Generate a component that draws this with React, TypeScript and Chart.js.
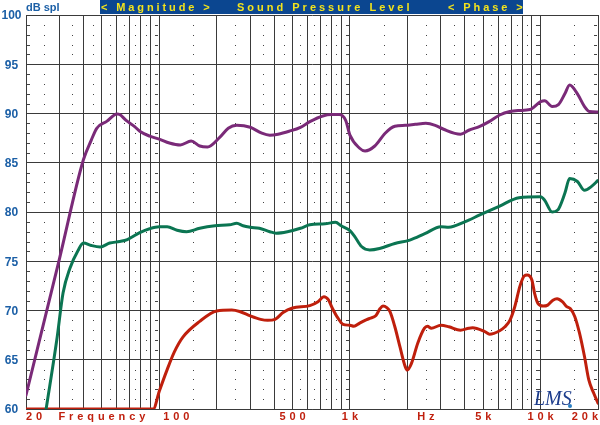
import React, { useEffect, useRef } from 'react';
import { Chart, registerables } from 'chart.js';

Chart.register(...registerables);

// ---- data (Hz / dB SPL) ----
const purpleFreq = [20, 30, 40, 44, 47, 53, 60, 62, 67, 74, 79, 89, 100, 113, 129, 147, 163, 179, 208, 230, 255, 300, 345, 380, 420, 480, 550, 620, 720, 800, 880, 950, 1000, 1120, 1200, 1350, 1530, 1720, 1950, 2200, 2500, 2800, 3100, 3800, 4200, 4800, 5400, 6100, 6900, 7700, 8800, 10000, 10500, 11500, 12400, 13400, 14200, 15600, 17000, 18000, 20000];
const purpleDb = [61.4, 75.3, 85.3, 87.3, 88.5, 89.2, 89.95, 89.9, 89.3, 88.7, 88.2, 87.7, 87.4, 87.0, 86.8, 87.2, 86.7, 86.6, 87.6, 88.5, 88.8, 88.6, 88.0, 87.8, 87.9, 88.2, 88.6, 89.2, 89.75, 89.9, 89.9, 89.3, 87.8, 86.5, 86.2, 86.7, 88.0, 88.7, 88.8, 88.9, 89.0, 88.8, 88.4, 87.9, 88.3, 88.7, 89.2, 89.85, 90.2, 90.3, 90.4, 91.2, 91.3, 90.7, 90.9, 92.0, 92.9, 92.0, 90.7, 90.2, 90.15];

const greenFreq = [25.5, 29, 31.3, 34, 37.5, 40, 44, 49, 55, 62, 68, 79, 89, 100, 110, 124, 139, 163, 196, 234, 255, 275, 300, 335, 380, 410, 470, 550, 616, 740, 840, 900, 1000, 1060, 1150, 1270, 1430, 1720, 2060, 2470, 3000, 3300, 4000, 4800, 6100, 7700, 10000, 10500, 11500, 12300, 13400, 14200, 15600, 17000, 18500, 20000];
const greenDb = [60, 67, 71.8, 74.3, 76.1, 76.85, 76.6, 76.45, 76.85, 77.0, 77.2, 77.9, 78.3, 78.5, 78.5, 78.15, 78.0, 78.35, 78.6, 78.7, 78.85, 78.6, 78.45, 78.35, 78.0, 77.85, 78.0, 78.35, 78.7, 78.8, 78.95, 78.6, 78.1, 77.5, 76.5, 76.15, 76.3, 76.8, 77.15, 77.8, 78.5, 78.45, 79.0, 79.7, 80.6, 81.45, 81.55, 81.2, 80.0, 80.2, 81.9, 83.4, 83.1, 82.2, 82.6, 83.2];

const redFreq = [20, 93, 100, 110, 120, 133, 163, 200, 240, 264, 300, 340, 370, 405, 446, 500, 616, 680, 730, 770, 810, 860, 920, 1000, 1050, 1120, 1200, 1270, 1370, 1440, 1490, 1560, 1620, 1720, 1830, 1950, 2000, 2100, 2270, 2460, 2550, 2670, 3000, 3300, 3800, 4200, 4400, 5100, 5400, 6100, 6500, 6900, 7300, 7800, 8200, 8500, 9000, 9300, 9700, 10300, 10900, 11600, 12200, 13000, 13700, 14300, 15100, 16000, 17000, 17900, 19000, 20000];
const redDb = [60, 60, 61.8, 64.0, 65.8, 67.3, 68.9, 69.95, 70.05, 69.9, 69.45, 69.1, 69.0, 69.1, 69.8, 70.25, 70.5, 70.9, 71.4, 71.1, 70.2, 69.3, 68.6, 68.5, 68.4, 68.7, 69.0, 69.2, 69.5, 70.2, 70.45, 70.3, 69.9, 68.35, 66.3, 64.3, 63.95, 64.6, 66.7, 68.2, 68.4, 68.2, 68.5, 68.35, 68.0, 68.2, 68.25, 67.85, 67.6, 67.95, 68.35, 69.0, 70.3, 72.5, 73.5, 73.6, 73.1, 71.75, 70.7, 70.45, 70.55, 71.05, 71.2, 70.9, 70.4, 70.2, 69.4, 67.7, 65.3, 62.95, 61.6, 60.6];

// ---- axes ----
const gridFreqs = [20, 30, 40, 50, 60, 70, 80, 90, 100, 200, 300, 400, 500, 600, 700, 800, 900, 1000, 2000, 3000, 4000, 5000, 6000, 7000, 8000, 9000, 10000, 20000];
const dotFreqs = [25, 35, 45, 55, 65, 75, 85, 95, 150, 250, 350, 450, 550, 650, 750, 850, 950, 1500, 2500, 3500, 4500, 5500, 6500, 7500, 8500, 9500, 15000];
const decadeFreqs = [100, 1000, 10000];
const yTickValues = [60, 65, 70, 75, 80, 85, 90, 95, 100];
const yTickLabels = ['60', '65', '70', '75', '80', '85', '90', '95', '100'];
const xLabelTexts = ['20', 'Frequency', '100', '500', '1k', 'Hz', '5k', '10k', '20k'];
const xLabelFreqs = [20, 50, 100, 500, 1000, 2500, 5000, 10000, 20000];
const xLabelAlign = ['left', 'center', 'left', 'center', 'center', 'center', 'center', 'center', 'right'];
const headerTexts = ['< Magnitude >', 'Sound Pressure Level', '< Phase >'];

const toPoints = (f: number[], v: number[]) => f.map((x, i) => ({ x, y: v[i] }));

function drawSpaced(ctx: CanvasRenderingContext2D, text: string, x: number, y: number, align: string, spacing: number) {
  ctx.save();
  (ctx as any).letterSpacing = '0px';
  const natural = ctx.measureText(text).width;
  const total = natural + spacing * (text.length - 1);
  let left = x;
  if (align === 'center') left = x - total / 2;
  else if (align === 'right') left = x - total;
  ctx.textAlign = 'left';
  (ctx as any).letterSpacing = spacing + 'px';
  ctx.fillText(text, left, y);
  ctx.restore();
}

const bgPlugin = {
  id: 'bgPlugin',
  beforeDraw(chart: any) {
    const ctx = chart.ctx;
    ctx.save();
    ctx.fillStyle = '#ffffff';
    ctx.fillRect(0, 0, chart.width, chart.height);
    ctx.restore();
  },
};

const dotsPlugin = {
  id: 'dotsPlugin',
  beforeDatasetsDraw(chart: any) {
    const ctx = chart.ctx;
    const xs = chart.scales.x;
    const ys = chart.scales.y;
    ctx.save();
    ctx.fillStyle = '#444';
    for (let db = 61; db < 100; db++) {
      if (db % 5 === 0) continue;
      const y = Math.round(ys.getPixelForValue(db));
      for (const f of dotFreqs) {
        const x = Math.round(xs.getPixelForValue(f));
        ctx.fillRect(x, y, 1, 1);
      }
      for (const f of decadeFreqs) {
        const x = Math.round(xs.getPixelForValue(f));
        ctx.fillRect(x - 4, y, 3, 1);
      }
      ctx.fillRect(Math.round(xs.left) + 1, y, 3, 1);
      ctx.fillRect(Math.round(xs.right) - 4, y, 3, 1);
    }
    ctx.restore();
  },
};

const textPlugin = {
  id: 'textPlugin',
  afterDraw(chart: any) {
    const ctx = chart.ctx;
    const xs = chart.scales.x;
    const ys = chart.scales.y;
    ctx.save();
    // header bar
    ctx.fillStyle = '#0b4690';
    ctx.fillRect(100, 0, 423, 14);
    ctx.fillStyle = '#f3e31c';
    ctx.font = 'bold 11px "Liberation Sans", Arial, sans-serif';
    ctx.textBaseline = 'alphabetic';
    drawSpaced(ctx, headerTexts[0], 101, 11, 'left', 2.9);
    drawSpaced(ctx, headerTexts[1], 237, 11, 'left', 3.0);
    drawSpaced(ctx, headerTexts[2], 448, 11, 'left', 2.9);

    // dB spl
    ctx.fillStyle = '#1b5fa6';
    ctx.font = 'bold 11px "Liberation Sans", Arial, sans-serif';
    ctx.textAlign = 'left';
    ctx.fillText('dB spl', 26, 11);

    // y tick labels
    ctx.font = 'bold 12px "Liberation Sans", Arial, sans-serif';
    ctx.textAlign = 'center';
    ctx.textBaseline = 'middle';
    yTickValues.forEach((v, i) => {
      ctx.fillText(yTickLabels[i], 11.5, ys.getPixelForValue(v) + 1);
    });

    // x labels
    ctx.fillStyle = '#c0200e';
    ctx.font = 'bold 11px "Liberation Sans", Arial, sans-serif';
    ctx.textBaseline = 'alphabetic';
    xLabelTexts.forEach((t, i) => {
      let x = xs.getPixelForValue(xLabelFreqs[i]);
      const a = xLabelAlign[i];
      if (a === 'left' && i > 0) x += 4;
      drawSpaced(ctx, t, x, 420, a, 3.9);
    });

    // signature
    ctx.fillStyle = '#1c3c8c';
    ctx.font = 'italic 20px "Liberation Serif", serif';
    ctx.textAlign = 'left';
    ctx.fillText('LMS', 534, 405);
    ctx.fillStyle = '#2a80c4';
    ctx.beginPath();
    ctx.arc(570, 406, 2, 0, Math.PI * 2);
    ctx.fill();
    ctx.restore();
  },
};

export default function App() {
  const ref = useRef<HTMLCanvasElement>(null);
  useEffect(() => {
    document.body.style.margin = '0';
    const canvas = ref.current!;
    const lineDs = (label: string, f: number[], v: number[], color: string) => ({
      label,
      data: toPoints(f, v),
      borderColor: color,
      backgroundColor: color,
      borderWidth: 3,
      pointRadius: 0,
      fill: false,
      cubicInterpolationMode: 'monotone' as const,
      borderCapStyle: 'round' as const,
      borderJoinStyle: 'round' as const,
    });
    const chart = new Chart(canvas, {
      type: 'line',
      data: {
        datasets: [
          lineDs('Purple', purpleFreq, purpleDb, '#7a2a78'),
          lineDs('Green', greenFreq, greenDb, '#0b7552'),
          lineDs('Red', redFreq, redDb, '#bf1f0c'),
        ],
      },
      options: {
        responsive: false,
        animation: false,
        layout: { padding: { top: 15, right: 2, left: 0, bottom: 0 } },
        plugins: { legend: { display: false }, tooltip: { enabled: false }, title: { display: false } },
        scales: {
          x: {
            type: 'logarithmic',
            min: 20,
            max: 20000,
            afterBuildTicks: (scale: any) => {
              scale.ticks = gridFreqs.map((v) => ({ value: v }));
            },
            afterFit: (scale: any) => {
              scale.height = 16;
            },
            ticks: { display: false },
            grid: { color: '#3a3a3a', lineWidth: 1, drawTicks: false },
            border: { display: true, color: '#3a3a3a', width: 1 },
          },
          y: {
            type: 'linear',
            min: 60,
            max: 100,
            afterBuildTicks: (scale: any) => {
              scale.ticks = yTickValues.map((v) => ({ value: v }));
            },
            afterFit: (scale: any) => {
              scale.width = 26;
            },
            ticks: { display: false },
            grid: { color: '#3a3a3a', lineWidth: 1, drawTicks: false },
            border: { display: true, color: '#3a3a3a', width: 1 },
          },
        },
      },
      plugins: [bgPlugin, dotsPlugin, textPlugin],
    });
    return () => chart.destroy();
  }, []);
  return (
    <div style={{ position: 'absolute', left: 0, top: 0, width: 600, height: 425, background: '#fff' }}>
      <canvas ref={ref} width={600} height={425} style={{ width: 600, height: 425, display: 'block' }} />
    </div>
  );
}
